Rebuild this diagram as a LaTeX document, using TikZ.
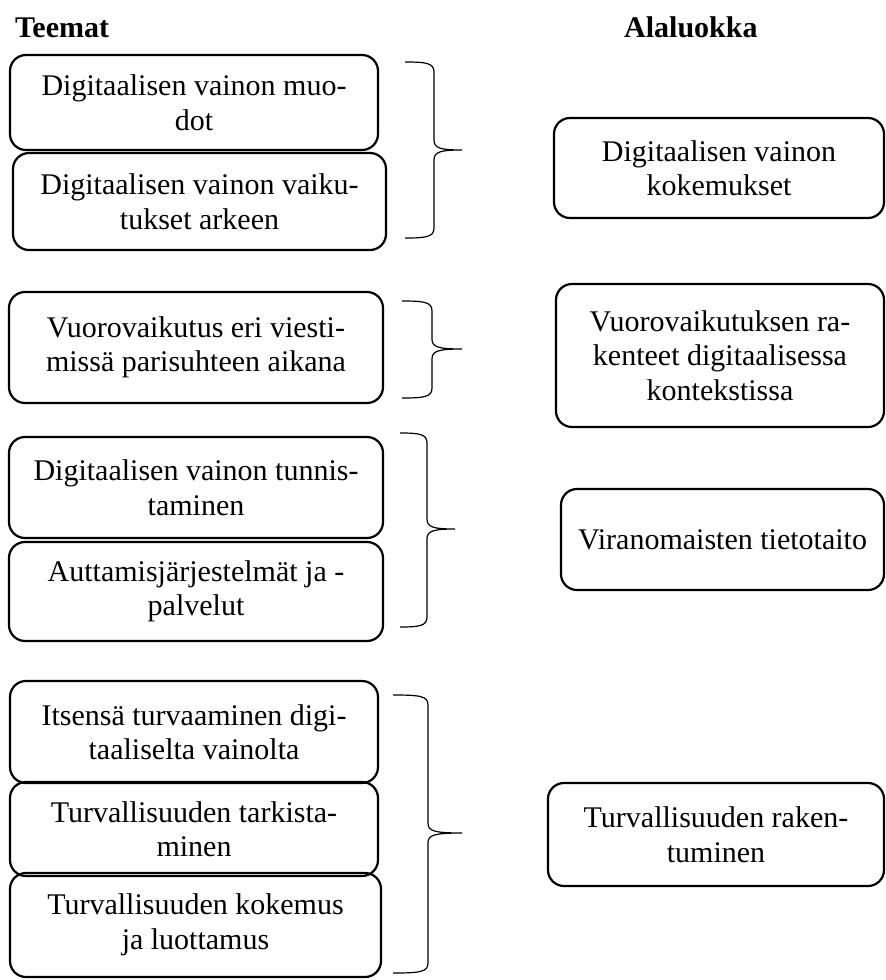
\documentclass[tikz,border=0pt]{standalone}
\usepackage{fontspec}
\setmainfont{Liberation Serif}
\newcommand{\kbrace}[6]{%
  \draw[bracestyle] (#1,#4) .. controls ({#2-8},#4) and (#2,{#4+1}) .. (#2,{#4+10})
    -- (#2,{#5-10}) .. controls (#2,{#5-2}) and ({#2+6},#5) .. (#3,#5)
    .. controls ({#2+6},#5) and (#2,{#5+2}) .. (#2,{#5+10})
    -- (#2,{#6-10}) .. controls (#2,{#6-1}) and ({#2-8},#6) .. (#1,#6);}
\begin{document}
\begin{tikzpicture}[x=1pt,y=-1pt,
  box/.style={draw,line width=2.2pt,rounded corners=16pt,align=center,inner sep=0pt,
    font=\fontsize{30}{34.5}\selectfont},
  title/.style={font=\fontsize{30}{34.5}\selectfont\bfseries,inner sep=0pt,anchor=base west},
  bracestyle/.style={line width=1.2pt}]
\useasboundingbox (0,0) rectangle (886,980);
\node[title] (t1) at (15,37) {Teemat};
\node[title] (t2) at (624,37) {Alaluokka};
% left boxes
\node[box,minimum width=368pt,minimum height=95pt] (a1) at (194,102.5) {Digitaalisen vainon muo-\\dot};
\node[box,minimum width=373pt,minimum height=97pt] (a2) at (199.5,201.5) {Digitaalisen vainon vaiku-\\tukset arkeen};
\node[box,minimum width=374pt,minimum height=111pt] (b1) at (196,347.5) {Vuorovaikutus eri viesti-\\missä parisuhteen aikana};
\node[box,minimum width=374pt,minimum height=101pt] (c1) at (196,487.5) {Digitaalisen vainon tunnis-\\taminen};
\node[box,minimum width=374pt,minimum height=99pt] (c2) at (196,591.5) {Auttamisjärjestelmät ja -\\palvelut};
\node[box,minimum width=368pt,minimum height=102pt] (d1) at (194,732) {Itsensä turvaaminen digi-\\taaliselta vainolta};
\node[box,minimum width=368pt,minimum height=94pt] (d2) at (194,829) {Turvallisuuden tarkista-\\minen};
\node[box,minimum width=371pt,minimum height=104pt] (d3) at (195.5,925) {Turvallisuuden kokemus\\ja luottamus};
% right boxes
\node[box,minimum width=330pt,minimum height=100pt] (r1) at (719,168) {Digitaalisen vainon\\kokemukset};
\node[box,minimum width=328pt,minimum height=143pt] (r2) at (720,355.5) {Vuorovaikutuksen ra-\\kenteet digitaalisessa\\kontekstissa};
\node[box,minimum width=323pt,minimum height=101pt] (r3) at (722.5,539.5) {Viranomaisten tietotaito};
\node[box,minimum width=336pt,minimum height=103pt] (r4) at (716,834.5) {Turvallisuuden raken-\\tuminen};
% braces
\kbrace{405}{434}{462}{62}{150}{238}
\kbrace{402}{432}{462}{301}{349}{398}
\kbrace{400}{427}{455}{433}{529}{627}
\kbrace{393}{428}{462}{695}{833}{973}
\end{tikzpicture}
\end{document}
